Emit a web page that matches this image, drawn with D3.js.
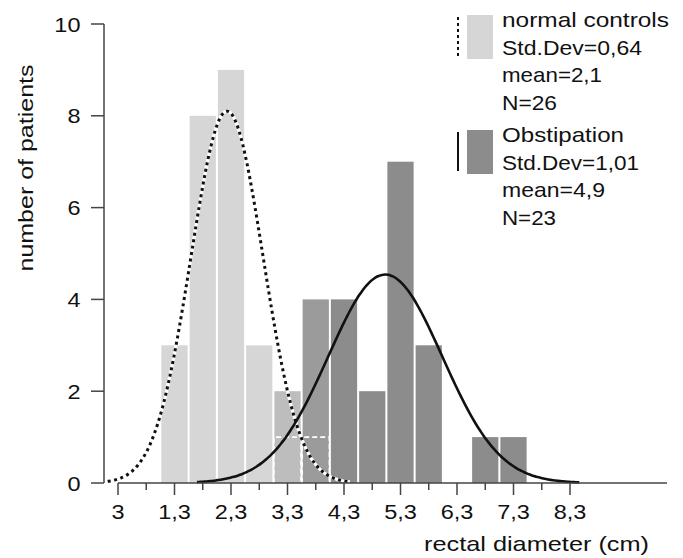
<!DOCTYPE html>
<html>
<head>
<meta charset="utf-8">
<script src="https://cdn.jsdelivr.net/npm/d3@7"></script>
<style>
  body { margin: 0; background: #fff; }
  svg text { font-family: "Liberation Sans", Arial, sans-serif; fill: #111; }
</style>
</head>
<body>
<div id="chart"></div>
<script>
var W = 683, H = 558;

// histogram bins (centre of each 0.5 cm bin)
var binCenters = [1.3, 1.8, 2.3, 2.8, 3.3, 3.8, 4.3, 4.8, 5.3, 5.8, 6.3, 6.8, 7.3];
var normalCounts = [3, 8, 9, 3, 2, 1, 0, 0, 0, 0, 0, 0, 0];
var obstCounts = [0, 0, 0, 0, 1, 4, 4, 2, 7, 3, 0, 1, 1];
var binWidth = 0.5;

var curveMean = [2.23, 5.03];
var curveSd = [0.64, 1.01];
var curveN = [26, 23];

var xTicks = [0.3, 1.3, 2.3, 3.3, 4.3, 5.3, 6.3, 7.3, 8.3];
var xTickLabels = ['3', '1,3', '2,3', '3,3', '4,3', '5,3', '6,3', '7,3', '8,3'];
var xMinorTicks = [0.8, 1.8, 2.8, 3.8, 4.8, 5.8, 6.8, 7.8];
var yTicks = [0, 2, 4, 6, 8, 10];

var legendLines = [
    ['normal controls', 'Std.Dev=0,64', 'mean=2,1', 'N=26'],
    ['Obstipation', 'Std.Dev=1,01', 'mean=4,9', 'N=23']
];
// measured text widths in the original lettering
var legendWidths = [
    [167, 140, 100, 55],
    [122, 137, 103, 54]
];

var lightGray = '#d6d6d6', darkGray = '#8c8c8c';
var stretch = 1.12; // the original lettering is wider than Arial
var fs = 21;

var svg = d3.select('#chart').append('svg')
    .attr('width', W)
    .attr('height', H);

var x = d3.scaleLinear().domain([0.3, 8.3]).range([118, 570]);
var y = d3.scaleLinear().domain([0, 10]).range([483, 24]);

function label(g, txt, px, py, anchor, len, rot){
    var t = g.append('text')
        .text(txt)
        .attr('text-anchor', anchor || 'start')
        .attr('font-size', fs);
    var tr = 'translate(' + px + ',' + py + ')' + (rot ? ' rotate(-90)' : '');
    if (len) {
        t.attr('textLength', len).attr('lengthAdjust', 'spacingAndGlyphs');
    } else {
        tr += ' scale(' + stretch + ',1)';
    }
    t.attr('transform', tr);
    return t;
}

/* bars: one bar per bin, tone mixed by the share of each group */
var bins = binCenters.map(function(c, i){
    return {c: c, n: normalCounts[i], o: obstCounts[i]};
}).filter(function(d){ return d.n + d.o > 0; });

var mix = d3.interpolateRgb(lightGray, darkGray);

svg.append('g').selectAll('rect')
    .data(bins)
    .enter()
    .append('rect')
    .attr('x', function(d){ return x(d.c - binWidth / 2) + 1; })
    .attr('width', function(d){ return x(d.c + binWidth / 2) - x(d.c - binWidth / 2) - 2; })
    .attr('y', function(d){ return y(Math.max(d.n, d.o)); })
    .attr('height', function(d){ return y(0) - y(Math.max(d.n, d.o)); })
    .style('fill', function(d){ return mix(d.o / (d.n + d.o)); });

// dashed outline for the smaller group inside shared bins
svg.append('g').selectAll('path')
    .data(bins.filter(function(d){ return d.n > 0 && d.o > 0; }))
    .enter()
    .append('path')
    .attr('d', function(d){
        var x0 = x(d.c - binWidth / 2) + 0.5, x1 = x(d.c + binWidth / 2) - 0.5;
        var yt = y(Math.min(d.n, d.o));
        return 'M' + x0 + ',' + y(0) + 'V' + yt + 'H' + x1 + 'V' + y(0);
    })
    .style('fill', 'none')
    .style('stroke', '#fff')
    .style('stroke-width', 1.6)
    .style('stroke-dasharray', '5,3');

/* normal curves */
function curvePoints(k){
    var pts = [];
    var lo = curveMean[k] - 3.3 * curveSd[k], hi = curveMean[k] + 3.4 * curveSd[k];
    var steps = 160;
    for (var i = 0; i <= steps; i++){
        var v = lo + (hi - lo) * i / steps;
        var z = (v - curveMean[k]) / curveSd[k];
        var h = curveN[k] * binWidth / (curveSd[k] * Math.sqrt(2 * Math.PI)) * Math.exp(-z * z / 2);
        pts.push([v, h]);
    }
    return pts;
}

var line = d3.line()
    .x(function(d){ return x(d[0]); })
    .y(function(d){ return y(d[1]); })
    .curve(d3.curveBasis);

// dotted curve: white under-stroke, black dashes
svg.append('path')
    .attr('d', line(curvePoints(0)))
    .style('fill', 'none')
    .style('stroke', '#fff')
    .style('stroke-width', 3.2);
svg.append('path')
    .attr('d', line(curvePoints(0)))
    .style('fill', 'none')
    .style('stroke', '#111')
    .style('stroke-width', 3)
    .style('stroke-dasharray', '3,3.5');

svg.append('path')
    .attr('d', line(curvePoints(1)))
    .style('fill', 'none')
    .style('stroke', '#111')
    .style('stroke-width', 2.6);

/* axes */
var axisCol = '#444';
var ax = svg.append('g');

// y axis
ax.append('line')
    .attr('x1', 104).attr('x2', 104)
    .attr('y1', y(10)).attr('y2', y(0))
    .style('stroke', axisCol).style('stroke-width', 1.5);
ax.selectAll('.ytick')
    .data(yTicks)
    .enter()
    .append('line')
    .attr('x1', 91).attr('x2', 104)
    .attr('y1', function(d){ return y(d); })
    .attr('y2', function(d){ return y(d); })
    .style('stroke', axisCol).style('stroke-width', 1.5);
yTicks.forEach(function(d){
    label(ax, d, 80.5, y(d) + 7.5, 'end');
});

// x axis
ax.append('line')
    .attr('x1', x(0.3)).attr('x2', 667)
    .attr('y1', y(0)).attr('y2', y(0))
    .style('stroke', axisCol).style('stroke-width', 1.5);
ax.selectAll('.xtick')
    .data(xTicks)
    .enter()
    .append('line')
    .attr('x1', function(d){ return x(d); })
    .attr('x2', function(d){ return x(d); })
    .attr('y1', y(0)).attr('y2', y(0) + 12)
    .style('stroke', axisCol).style('stroke-width', 1.5);
ax.selectAll('.xminor')
    .data(xMinorTicks)
    .enter()
    .append('line')
    .attr('x1', function(d){ return x(d); })
    .attr('x2', function(d){ return x(d); })
    .attr('y1', y(0)).attr('y2', y(0) + 7)
    .style('stroke', axisCol).style('stroke-width', 1.5);
xTicks.forEach(function(d, i){
    label(ax, xTickLabels[i], x(d), 519, 'middle');
});

// axis titles
label(svg, 'rectal diameter (cm)', 649, 551, 'end', 225);
label(svg, 'number of patients', 33, 168, 'middle', 207, true);

/* legend */
var legendTop = [15, 130];
var lg = svg.append('g');
legendLines.forEach(function(lines, k){
    var top = legendTop[k];
    lg.append('rect')
        .attr('x', 467).attr('y', top)
        .attr('width', 26).attr('height', 44)
        .style('fill', k === 0 ? lightGray : darkGray);
    lg.append('line')
        .attr('x1', 458).attr('x2', 458)
        .attr('y1', top + 2).attr('y2', top + 41)
        .style('stroke', '#111')
        .style('stroke-width', 2)
        .style('stroke-dasharray', k === 0 ? '3,3' : null);
    lines.forEach(function(s, j){
        label(lg, s, 502, top + 12 + j * 27.5, 'start', legendWidths[k][j]);
    });
});
</script>
</body>
</html>
